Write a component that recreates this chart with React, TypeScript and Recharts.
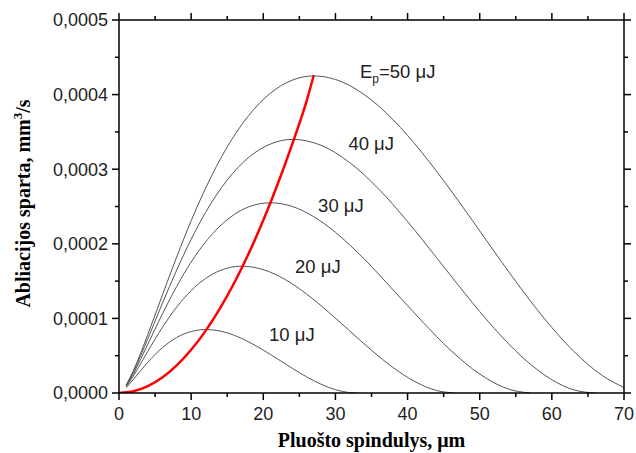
import { LineChart, Line, XAxis, YAxis, ReferenceDot, Label } from 'recharts'

// pluošto spindulys (µm) -> abliacijos sparta (mm³/s), nuskaityta nuo grafiko
const curve10: [number, number][] = [
  [1, 0.0000071], [2, 0.0000182], [3, 0.00003], [4, 0.0000413], [6, 0.0000606],
  [8, 0.0000744], [10, 0.0000824], [12, 0.0000851], [14, 0.0000831], [16, 0.0000773],
  [18, 0.0000684], [20, 0.0000575], [22, 0.0000455], [24, 0.0000332], [26, 0.0000217],
  [28, 0.0000118], [30, 0.0000044], [32, 0.0000005], [33, 0],
]
const curve20: [number, number][] = [
  [1, 0.0000086], [2, 0.000023], [3, 0.0000393], [4, 0.000056], [6, 0.0000877],
  [8, 0.0001152], [10, 0.0001372], [12, 0.0001535], [14, 0.0001641], [17, 0.00017],
  [20, 0.0001654], [23, 0.0001523], [26, 0.0001327], [29, 0.0001088], [32, 0.000083],
  [35, 0.0000573], [38, 0.0000341], [41, 0.0000154], [44, 0.0000034], [46.5, 0],
]
const curve30: [number, number][] = [
  [1, 0.0000095], [2, 0.000026], [3, 0.0000452], [4, 0.0000654], [6, 0.0001057],
  [8, 0.0001429], [10, 0.0001755], [13, 0.0002139], [16, 0.0002395], [18, 0.0002496],
  [21, 0.000255], [24, 0.0002501], [27, 0.0002363], [30, 0.0002154], [34, 0.0001795],
  [38, 0.0001382], [42, 0.0000962], [46, 0.000057], [50, 0.0000254], [54, 0.0000052],
  [57, 0],
]
const curve40: [number, number][] = [
  [1, 0.0000102], [2, 0.0000283], [3, 0.0000498], [4, 0.0000728], [6, 0.0001199],
  [8, 0.0001649], [10, 0.000206], [12, 0.0002421], [15, 0.0002855], [18, 0.000316],
  [21, 0.0003338], [24, 0.00034], [28, 0.0003321], [32, 0.0003087], [36, 0.0002734],
  [40, 0.0002298], [44, 0.0001817], [48, 0.0001328], [52, 0.0000868], [56, 0.0000472],
  [60, 0.0000177], [63, 0.0000043], [66, 0],
]
const curve50: [number, number][] = [
  [1, 0.0000107], [2, 0.0000301], [3, 0.0000534], [4, 0.0000786], [6, 0.000131],
  [8, 0.0001825], [10, 0.0002308], [12, 0.0002744], [15, 0.0003298], [18, 0.0003723],
  [21, 0.000402], [24, 0.0004193], [27, 0.000425], [31, 0.0004167], [35, 0.0003927],
  [39, 0.0003561], [43, 0.00031], [47, 0.0002582], [51, 0.0002035], [55, 0.0001495],
  [59, 0.0000993], [63, 0.0000562], [67, 0.0000233], [70, 0.0000074],
]
// maksimumų kreivė (raudona)
const peakCurve: [number, number][] = [
  [0, 0], [2, 0.0000023], [4, 0.0000093], [6, 0.0000208], [8, 0.000037],
  [10, 0.0000579], [12, 0.0000833], [14, 0.0001134], [16, 0.0001481], [18, 0.0001875],
  [20, 0.0002315], [22, 0.0002801], [24, 0.0003333], [26, 0.0003912], [27, 0.000426],
]

const xTicks = [0, 5, 10, 15, 20, 25, 30, 35, 40, 45, 50, 55, 60, 65, 70]
const yTicks = [0, 0.00005, 0.0001, 0.00015, 0.0002, 0.00025, 0.0003, 0.00035, 0.0004, 0.00045, 0.0005]

const toPoints = (c: [number, number][]) => c.map(([x, y]) => ({ x, y }))

const SANS = '"Liberation Sans", Arial, sans-serif'
const SERIF = '"Liberation Serif", "Times New Roman", serif'
const MAJOR = 7
const MINOR = 4

const isMajorX = (v: number) => v % 10 === 0
const isMajorY = (v: number) => Math.round(v * 20000) % 2 === 0

function BottomTick({ x, y, payload }: any) {
  const major = isMajorX(payload.value)
  return (
    <g>
      <line x1={x} x2={x} y1={y} y2={y + (major ? MAJOR : MINOR)} stroke="#000" strokeWidth={1.5} />
      {major && (
        <text x={x} y={y + 27} textAnchor="middle" fontSize={18} fontFamily={SANS} fill="#222">
          {payload.value}
        </text>
      )}
    </g>
  )
}

function TopTick({ x, y, payload }: any) {
  const major = isMajorX(payload.value)
  return <line x1={x} x2={x} y1={y} y2={y - (major ? MAJOR : MINOR)} stroke="#000" strokeWidth={1.5} />
}

function LeftTick({ x, y, payload }: any) {
  const major = isMajorY(payload.value)
  return (
    <g>
      <line x1={x - (major ? MAJOR : MINOR)} x2={x} y1={y} y2={y} stroke="#000" strokeWidth={1.5} />
      {major && (
        <text x={x - 11} y={y} dy="0.35em" textAnchor="end" fontSize={18} fontFamily={SANS} fill="#222">
          {payload.value.toFixed(4).replace('.', ',')}
        </text>
      )}
    </g>
  )
}

function RightTick({ x, y, payload }: any) {
  const major = isMajorY(payload.value)
  return <line x1={x} x2={x + (major ? MAJOR : MINOR)} y1={y} y2={y} stroke="#000" strokeWidth={1.5} />
}

const annoText = (content: React.ReactNode) => (props: any) => (
  <text x={props.cx} y={props.cy} fontSize={18.5} fontFamily={SANS} fill="#222">
    {content}
  </text>
)

export default function App() {
  return (
    <div style={{ width: 636, height: 453 }}>
      <style>{'body{margin:0}'}</style>
      <LineChart width={636} height={453} margin={{ top: 10, right: 0, bottom: 10, left: 49 }}>
        <XAxis
          dataKey="x"
          type="number"
          domain={[0, 70]}
          ticks={xTicks}
          interval={0}
          allowDataOverflow
          height={50}
          tickSize={0}
          tickMargin={0}
          tickLine={false}
          tick={(p: any) => <BottomTick {...p} />}
          axisLine={{ stroke: '#000', strokeWidth: 1.5 }}
        >
          <Label
            content={({ viewBox }: any) => (
              <text
                x={viewBox.x + viewBox.width / 2}
                y={viewBox.y + 54}
                textAnchor="middle"
                fontSize={20}
                fontWeight="bold"
                fontFamily={SERIF}
                fill="#000"
              >
                Pluošto spindulys, μm
              </text>
            )}
          />
        </XAxis>
        <XAxis
          xAxisId="top"
          orientation="top"
          dataKey="x"
          type="number"
          domain={[0, 70]}
          ticks={xTicks}
          interval={0}
          allowDataOverflow
          height={10}
          tickSize={0}
          tickMargin={0}
          tickLine={false}
          tick={(p: any) => <TopTick {...p} />}
          axisLine={{ stroke: '#000', strokeWidth: 1.5 }}
        />
        <YAxis
          type="number"
          domain={[0, 0.0005]}
          ticks={yTicks}
          interval={0}
          allowDataOverflow
          width={70}
          tickSize={0}
          tickMargin={0}
          tickLine={false}
          tick={(p: any) => <LeftTick {...p} />}
          axisLine={{ stroke: '#000', strokeWidth: 1.5 }}
        >
          <Label
            content={({ viewBox }: any) => {
              const cx = 23
              const cy = viewBox.y + viewBox.height / 2 - 3
              return (
                <text
                  x={cx}
                  y={cy}
                  transform={`rotate(-90 ${cx} ${cy})`}
                  textAnchor="middle"
                  dy="0.35em"
                  fontSize={20}
                  fontWeight="bold"
                  fontFamily={SERIF}
                  fill="#000"
                >
                  Abliacijos sparta, mm
                  <tspan dy={-8} fontSize={13}>3</tspan>
                  <tspan dy={8}>/s</tspan>
                </text>
              )
            }}
          />
        </YAxis>
        <YAxis
          yAxisId="right"
          orientation="right"
          type="number"
          domain={[0, 0.0005]}
          ticks={yTicks}
          interval={0}
          allowDataOverflow
          width={12}
          tickSize={0}
          tickMargin={0}
          tickLine={false}
          tick={(p: any) => <RightTick {...p} />}
          axisLine={{ stroke: '#000', strokeWidth: 1.5 }}
        />

        {[curve10, curve20, curve30, curve40, curve50].map((c, i) => (
          <Line
            key={i}
            data={toPoints(c)}
            dataKey="y"
            type="monotone"
            stroke="#555"
            strokeWidth={1}
            dot={false}
            isAnimationActive={false}
          />
        ))}
        <Line
          data={toPoints(peakCurve)}
          dataKey="y"
          type="monotone"
          stroke="#ff0000"
          strokeWidth={2.5}
          dot={false}
          isAnimationActive={false}
        />

        <ReferenceDot x={20.8} y={0.0000697} r={0} shape={annoText('10 μJ')} />
        <ReferenceDot x={24.4} y={0.000161} r={0} shape={annoText('20 μJ')} />
        <ReferenceDot x={27.6} y={0.000243} r={0} shape={annoText('30 μJ')} />
        <ReferenceDot x={31.8} y={0.000326} r={0} shape={annoText('40 μJ')} />
        <ReferenceDot
          x={33.4}
          y={0.000422}
          r={0}
          shape={annoText(
            <>
              E<tspan dy={5} fontSize={12}>p</tspan>
              <tspan dy={-5}>=50 μJ</tspan>
            </>
          )}
        />
      </LineChart>
    </div>
  )
}
